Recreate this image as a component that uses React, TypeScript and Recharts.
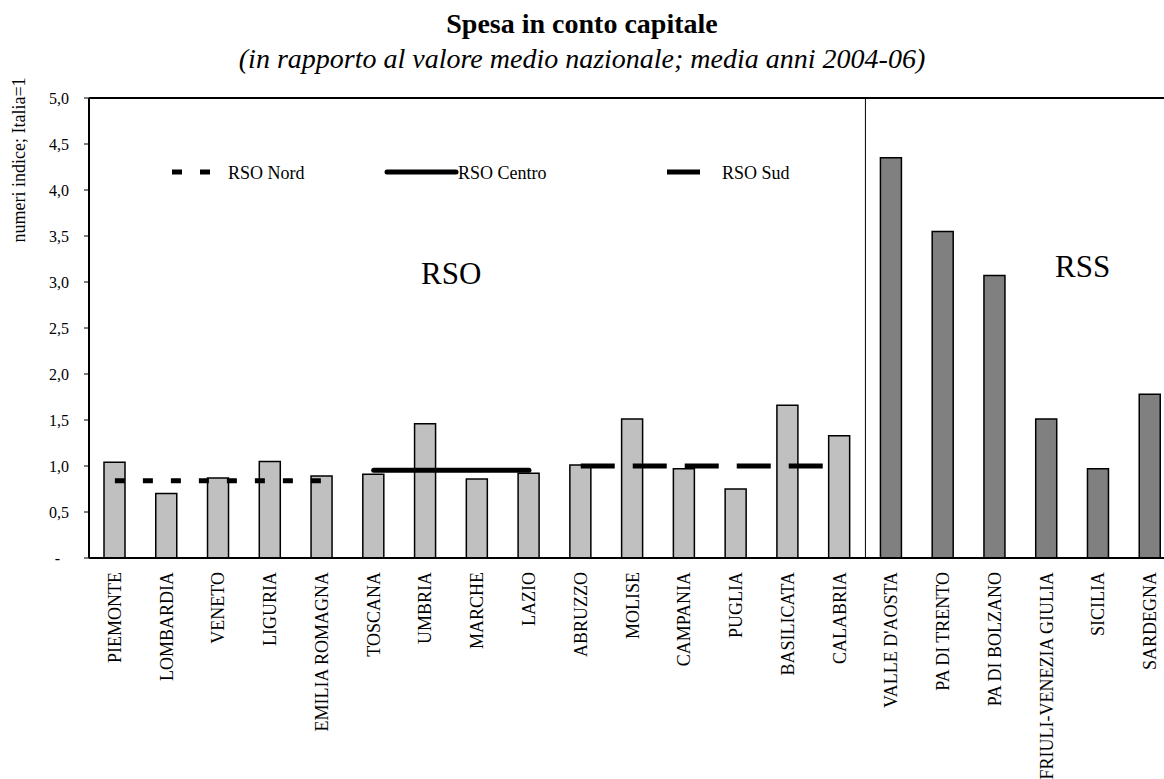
import React from "react";
import {
  ComposedChart,
  Bar,
  Line,
  Cell,
  XAxis,
  YAxis,
  Legend,
  ReferenceLine,
} from "recharts";

const regioni = [
  "PIEMONTE", "LOMBARDIA", "VENETO", "LIGURIA", "EMILIA ROMAGNA",
  "TOSCANA", "UMBRIA", "MARCHE", "LAZIO",
  "ABRUZZO", "MOLISE", "CAMPANIA", "PUGLIA", "BASILICATA", "CALABRIA",
  "VALLE D'AOSTA", "PA DI TRENTO", "PA DI BOLZANO", "FRIULI-VENEZIA GIULIA", "SICILIA", "SARDEGNA",
];
const gruppo = [
  "RSO", "RSO", "RSO", "RSO", "RSO", "RSO", "RSO", "RSO", "RSO",
  "RSO", "RSO", "RSO", "RSO", "RSO", "RSO",
  "RSS", "RSS", "RSS", "RSS", "RSS", "RSS",
];
const spesa = [
  1.04, 0.7, 0.87, 1.05, 0.89,
  0.91, 1.46, 0.86, 0.92,
  1.01, 1.51, 0.97, 0.75, 1.66, 1.33,
  4.35, 3.55, 3.07, 1.51, 0.97, 1.78,
];
const rsoNord = [0.84, 0.84, 0.84, 0.84, 0.84, null, null, null, null, null, null, null, null, null, null, null, null, null, null, null, null];
const rsoCentro = [null, null, null, null, null, 0.955, 0.955, 0.955, 0.955, null, null, null, null, null, null, null, null, null, null, null, null];
const rsoSud = [null, null, null, null, null, null, null, null, null, 1.0, 1.0, 1.0, 1.0, 1.0, 1.0, null, null, null, null, null, null];
const yTicks = [0, 0.5, 1, 1.5, 2, 2.5, 3, 3.5, 4, 4.5, 5];

const data = regioni.map((r, i) => ({
  regione: r,
  spesa: spesa[i],
  nord: rsoNord[i],
  centro: rsoCentro[i],
  sud: rsoSud[i],
}));

const FONT = "'Liberation Serif', 'Times New Roman', serif";

const YTick = ({ x, y, payload }: any) => {
  const v = payload.value as number;
  const label = v === 0 ? "-" : v.toFixed(1).replace(".", ",");
  return (
    <text x={v === 0 ? x - 9 : x} y={y} dy="0.355em" textAnchor="end" style={{ fontFamily: FONT, fontSize: 16 }} fill="#000">
      {label}
    </text>
  );
};

const XTick = ({ x, y, payload }: any) => (
  <text
    x={x + 6}
    y={y}
    transform={`rotate(-90, ${x + 6}, ${y})`}
    textAnchor="end"
    style={{ fontFamily: FONT, fontSize: 18 }}
    fill="#000"
  >
    {payload.value}
  </text>
);

const renderLegend = () => (
  <svg width={700} height={30} style={{ overflow: "visible" }}>
    <g style={{ fontFamily: FONT, fontSize: 18 }} fill="#000">
      <line x1={12} x2={50} y1={12} y2={12} stroke="#000" strokeWidth={5} strokeDasharray="10 18" />
      <text x={68} y={19}>RSO Nord</text>
      <line x1={227} x2={296} y1={12} y2={12} stroke="#000" strokeWidth={5} strokeLinecap="round" />
      <text x={298} y={19}>RSO Centro</text>
      <line x1={507} x2={540} y1={12} y2={12} stroke="#000" strokeWidth={5} />
      <text x={562} y={19}>RSO Sud</text>
    </g>
  </svg>
);

export default function App() {
  return (
    <div style={{ position: "absolute", left: 0, top: 0, width: 1164, height: 779, overflow: "hidden", background: "#fff" }}>
      <ComposedChart
        width={1190}
        height={779}
        data={data}
        margin={{ top: 98, right: 14, bottom: 0, left: 0 }}
      >
        <XAxis
          dataKey="regione"
          interval={0}
          height={221}
          tickSize={0}
          tickMargin={14}
          tickLine={false}
          axisLine={{ stroke: "#000", strokeWidth: 2 }}
          tick={<XTick />}
        />
        <YAxis
          domain={[0, 5]}
          ticks={yTicks}
          width={89}
          tickSize={5}
          tickMargin={15}
          axisLine={{ stroke: "#000", strokeWidth: 2 }}
          tickLine={{ stroke: "#000", strokeWidth: 1 }}
          tick={<YTick />}
        />
        <ReferenceLine y={5} stroke="#000" strokeWidth={2} />
        <ReferenceLine x="VALLE D'AOSTA" position="start" stroke="#000" strokeWidth={1} />
        <Legend
          verticalAlign="middle"
          align="center"
          layout="horizontal"
          content={renderLegend}
          wrapperStyle={{ left: 160, top: 160, width: 700, height: 30 }}
        />
        <Bar dataKey="spesa" barSize={21} stroke="#000" strokeWidth={1.5} isAnimationActive={false}>
          {data.map((d, i) => (
            <Cell key={d.regione} fill={gruppo[i] === "RSO" ? "#c0c0c0" : "#808080"} />
          ))}
        </Bar>
        <Line dataKey="nord" stroke="#000" strokeWidth={5} strokeDasharray="10 18" dot={false} activeDot={false} isAnimationActive={false} />
        <Line dataKey="centro" stroke="#000" strokeWidth={5} strokeLinecap="round" dot={false} activeDot={false} isAnimationActive={false} />
        <Line dataKey="sud" stroke="#000" strokeWidth={5} strokeDasharray="34 18" dot={false} activeDot={false} isAnimationActive={false} />
      </ComposedChart>
      <svg width={1164} height={779} style={{ position: "absolute", left: 0, top: 0, pointerEvents: "none" }}>
        <g style={{ fontFamily: FONT }} fill="#000" textAnchor="middle">
          <text x={582} y={33} style={{ fontSize: 28, fontWeight: "bold" }}>Spesa in conto capitale</text>
          <text x={582} y={68} style={{ fontSize: 28, fontStyle: "italic" }}>
            (in rapporto al valore medio nazionale; media anni 2004-06)
          </text>
          <text x={25} y={160} transform="rotate(-90, 25, 160)" style={{ fontSize: 18 }}>
            numeri indice; Italia=1
          </text>
        </g>
        <g style={{ fontFamily: FONT, fontSize: 31 }} fill="#000">
          <text x={421} y={284}>RSO</text>
          <text x={1055} y={277}>RSS</text>
        </g>
      </svg>
    </div>
  );
}
